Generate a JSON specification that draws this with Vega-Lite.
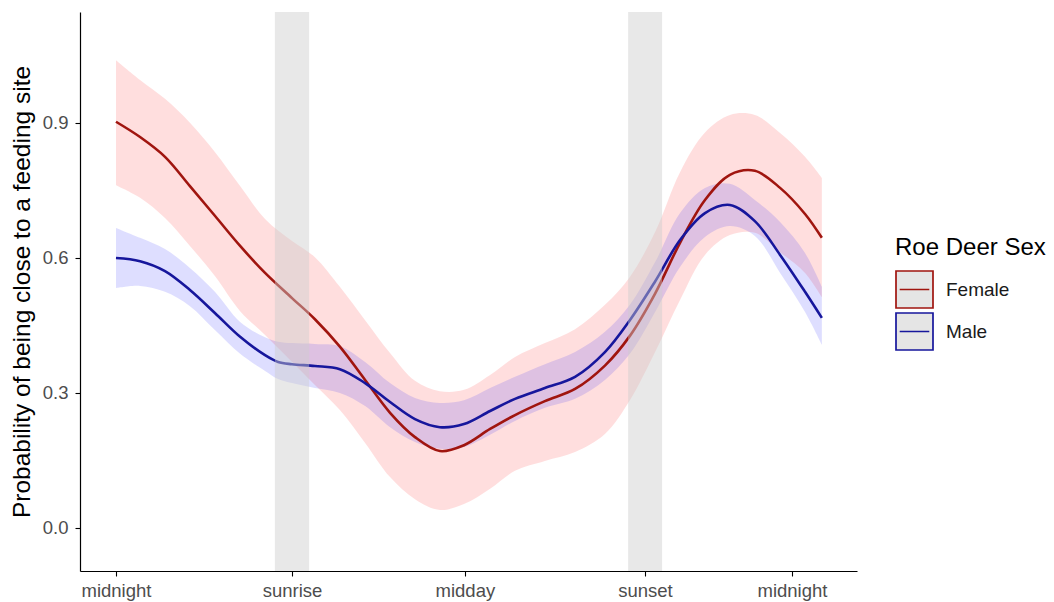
{
  "$schema": "https://vega.github.io/schema/vega-lite/v6.json",
  "width": 777,
  "height": 559,
  "autosize": {"type": "none"},
  "padding": {"left": 80, "top": 12, "right": 197, "bottom": 31},
  "config": {
    "view": {"stroke": null},
    "font": "Liberation Sans",
    "axis": {"grid": false, "domainColor": "black", "tickColor": "black", "domainWidth": 1.2, "tickWidth": 1.1, "tickSize": 5, "labelColor": "#4d4d4d", "labelFontSize": 18.5, "titleFontWeight": "normal", "titleColor": "black", "titleFontSize": 24.5}
  },
  "resolve": {"legend": {"fill": "independent", "stroke": "independent"}},
  "datasets": {
    "curves": [
      {"sex": "Female", "x": 0, "fit": 0.902, "lo": 0.761, "hi": 1.039},
      {"sex": "Female", "x": 0.83, "fit": 0.868, "lo": 0.733, "hi": 0.995},
      {"sex": "Female", "x": 1.69, "fit": 0.824, "lo": 0.688, "hi": 0.953},
      {"sex": "Female", "x": 2.55, "fit": 0.759, "lo": 0.626, "hi": 0.900},
      {"sex": "Female", "x": 3.41, "fit": 0.693, "lo": 0.559, "hi": 0.835},
      {"sex": "Female", "x": 4.28, "fit": 0.626, "lo": 0.481, "hi": 0.759},
      {"sex": "Female", "x": 5.14, "fit": 0.566, "lo": 0.428, "hi": 0.686},
      {"sex": "Female", "x": 6.07, "fit": 0.510, "lo": 0.368, "hi": 0.637},
      {"sex": "Female", "x": 6.86, "fit": 0.463, "lo": 0.317, "hi": 0.601},
      {"sex": "Female", "x": 7.72, "fit": 0.402, "lo": 0.261, "hi": 0.535},
      {"sex": "Female", "x": 8.59, "fit": 0.328, "lo": 0.188, "hi": 0.461},
      {"sex": "Female", "x": 9.45, "fit": 0.255, "lo": 0.112, "hi": 0.388},
      {"sex": "Female", "x": 10.31, "fit": 0.201, "lo": 0.063, "hi": 0.326},
      {"sex": "Female", "x": 11.17, "fit": 0.170, "lo": 0.039, "hi": 0.303},
      {"sex": "Female", "x": 12.0, "fit": 0.183, "lo": 0.052, "hi": 0.306},
      {"sex": "Female", "x": 12.9, "fit": 0.219, "lo": 0.086, "hi": 0.339},
      {"sex": "Female", "x": 13.76, "fit": 0.250, "lo": 0.126, "hi": 0.379},
      {"sex": "Female", "x": 14.79, "fit": 0.281, "lo": 0.148, "hi": 0.410},
      {"sex": "Female", "x": 15.83, "fit": 0.308, "lo": 0.168, "hi": 0.441},
      {"sex": "Female", "x": 16.86, "fit": 0.360, "lo": 0.208, "hi": 0.495},
      {"sex": "Female", "x": 17.72, "fit": 0.426, "lo": 0.283, "hi": 0.557},
      {"sex": "Female", "x": 18.59, "fit": 0.520, "lo": 0.390, "hi": 0.657},
      {"sex": "Female", "x": 19.45, "fit": 0.633, "lo": 0.506, "hi": 0.790},
      {"sex": "Female", "x": 20.31, "fit": 0.728, "lo": 0.606, "hi": 0.878},
      {"sex": "Female", "x": 21.17, "fit": 0.784, "lo": 0.650, "hi": 0.917},
      {"sex": "Female", "x": 22.03, "fit": 0.793, "lo": 0.655, "hi": 0.917},
      {"sex": "Female", "x": 22.9, "fit": 0.755, "lo": 0.612, "hi": 0.877},
      {"sex": "Female", "x": 23.76, "fit": 0.697, "lo": 0.566, "hi": 0.824},
      {"sex": "Female", "x": 24.34, "fit": 0.644, "lo": 0.512, "hi": 0.777},
      {"sex": "Male", "x": 0, "fit": 0.599, "lo": 0.532, "hi": 0.666},
      {"sex": "Male", "x": 0.83, "fit": 0.592, "lo": 0.537, "hi": 0.644},
      {"sex": "Male", "x": 1.69, "fit": 0.570, "lo": 0.524, "hi": 0.619},
      {"sex": "Male", "x": 2.55, "fit": 0.528, "lo": 0.492, "hi": 0.577},
      {"sex": "Male", "x": 3.41, "fit": 0.477, "lo": 0.439, "hi": 0.524},
      {"sex": "Male", "x": 4.28, "fit": 0.424, "lo": 0.386, "hi": 0.457},
      {"sex": "Male", "x": 5.14, "fit": 0.383, "lo": 0.348, "hi": 0.423},
      {"sex": "Male", "x": 5.59, "fit": 0.368, "lo": 0.330, "hi": 0.413},
      {"sex": "Male", "x": 6.07, "fit": 0.363, "lo": 0.321, "hi": 0.410},
      {"sex": "Male", "x": 6.86, "fit": 0.359, "lo": 0.310, "hi": 0.408},
      {"sex": "Male", "x": 7.72, "fit": 0.352, "lo": 0.299, "hi": 0.403},
      {"sex": "Male", "x": 8.59, "fit": 0.321, "lo": 0.270, "hi": 0.368},
      {"sex": "Male", "x": 9.45, "fit": 0.279, "lo": 0.223, "hi": 0.321},
      {"sex": "Male", "x": 10.31, "fit": 0.241, "lo": 0.190, "hi": 0.288},
      {"sex": "Male", "x": 11.17, "fit": 0.223, "lo": 0.175, "hi": 0.277},
      {"sex": "Male", "x": 12.0, "fit": 0.230, "lo": 0.179, "hi": 0.283},
      {"sex": "Male", "x": 12.9, "fit": 0.259, "lo": 0.206, "hi": 0.310},
      {"sex": "Male", "x": 13.76, "fit": 0.286, "lo": 0.237, "hi": 0.335},
      {"sex": "Male", "x": 14.79, "fit": 0.310, "lo": 0.266, "hi": 0.363},
      {"sex": "Male", "x": 15.83, "fit": 0.335, "lo": 0.286, "hi": 0.390},
      {"sex": "Male", "x": 16.86, "fit": 0.390, "lo": 0.328, "hi": 0.435},
      {"sex": "Male", "x": 17.72, "fit": 0.461, "lo": 0.386, "hi": 0.495},
      {"sex": "Male", "x": 18.59, "fit": 0.547, "lo": 0.479, "hi": 0.590},
      {"sex": "Male", "x": 19.45, "fit": 0.639, "lo": 0.579, "hi": 0.699},
      {"sex": "Male", "x": 20.31, "fit": 0.699, "lo": 0.646, "hi": 0.755},
      {"sex": "Male", "x": 21.17, "fit": 0.717, "lo": 0.670, "hi": 0.764},
      {"sex": "Male", "x": 22.03, "fit": 0.681, "lo": 0.648, "hi": 0.728},
      {"sex": "Male", "x": 22.9, "fit": 0.606, "lo": 0.566, "hi": 0.679},
      {"sex": "Male", "x": 23.76, "fit": 0.524, "lo": 0.479, "hi": 0.610},
      {"sex": "Male", "x": 24.34, "fit": 0.466, "lo": 0.406, "hi": 0.535}
    ],
    "bands": [
      {"period": "sunrise", "start": 5.48, "end": 6.66},
      {"period": "sunset", "start": 17.66, "end": 18.83}
    ]
  },
  "layer": [
    {
      "data": {"name": "curves"},
      "mark": {"type": "area", "opacity": 0.13, "interpolate": "catmull-rom"},
      "encoding": {
        "x": {"field": "x", "type": "quantitative", "scale": {"domain": [-1.241, 25.552], "nice": false, "zero": false},
          "axis": {"title": null, "values": [0, 6.07, 12.03, 18.24, 23.31], "labelExpr": "datum.value < 3 ? 'midnight' : datum.value < 9 ? 'sunrise' : datum.value < 15 ? 'midday' : datum.value < 21 ? 'sunset' : 'midnight'", "labelPadding": 5, "labelFlush": false, "labelOverlap": false}},
        "y": {"field": "lo", "type": "quantitative", "scale": {"domain": [-0.0967, 1.146], "nice": false, "zero": false},
          "axis": {"title": "Probability of being close to a feeding site", "values": [0, 0.3, 0.6, 0.9], "format": ".1f", "labelPadding": 7, "titlePadding": 8}},
        "y2": {"field": "hi"},
        "fill": {"field": "sex", "type": "nominal", "scale": {"domain": ["Female", "Male"], "range": ["#ff0000", "#0000ff"]}, "legend": null}
      }
    },
    {
      "data": {"name": "curves"},
      "mark": {"type": "line", "strokeWidth": 2.6, "interpolate": "catmull-rom"},
      "encoding": {
        "x": {"field": "x", "type": "quantitative"},
        "y": {"field": "fit", "type": "quantitative"},
        "stroke": {"field": "sex", "type": "nominal", "scale": {"domain": ["Female", "Male"], "range": ["#a0150f", "#16169c"]},
          "legend": {"title": "Roe Deer Sex", "orient": "none", "legendX": 815, "legendY": 224, "titleFontSize": 24, "titleFontWeight": "normal", "titleColor": "black", "titlePadding": 10, "labelFontSize": 19, "labelColor": "#1a1a1a", "labelOffset": 12, "symbolType": "M-1,-1H1V1H-1Z M-0.8,0H0.8", "symbolSize": 1369, "symbolStrokeWidth": 1.7, "rowPadding": -7, "symbolFillColor": "#e5e5e5",
            "encode": {"symbols": {"update": {"fill": {"value": "#e5e5e5"}, "opacity": {"value": 1}}}}}}
      }
    },
    {
      "data": {"name": "bands"},
      "mark": {"type": "rect", "color": "#cccccc", "opacity": 0.45},
      "encoding": {
        "x": {"field": "start", "type": "quantitative"},
        "x2": {"field": "end"}
      }
    }
  ]
}
